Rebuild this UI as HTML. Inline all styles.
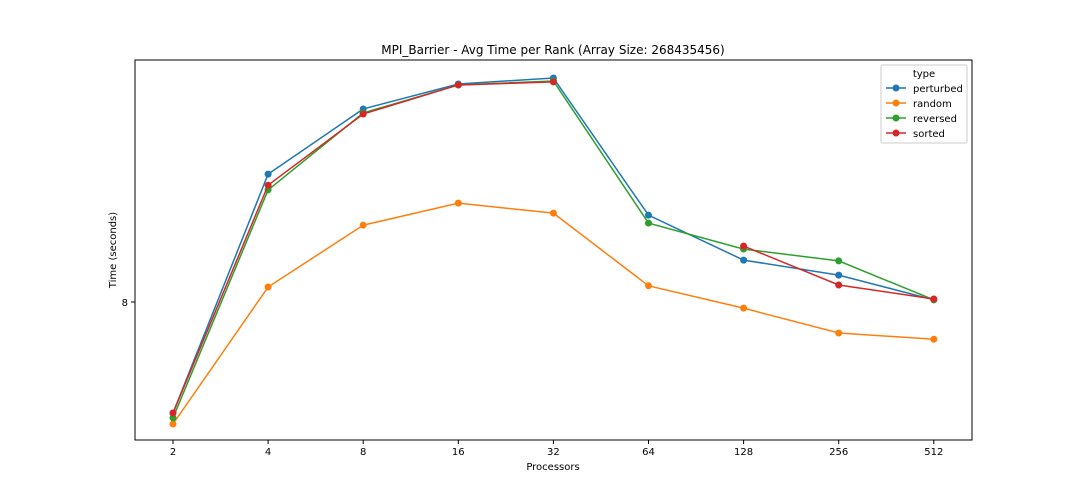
<!DOCTYPE html>
<html><head><meta charset="utf-8"><style>
html,body{margin:0;padding:0;background:#fff;}
svg{display:block;font-family:"DejaVu Sans","Liberation Sans",sans-serif;}
</style></head><body>
<svg id="chart" width="1080" height="504" viewBox="0 0 1080 504">
<text x="553" y="54" font-size="12" text-anchor="middle" fill="#000">MPI_Barrier - Avg Time per Rank (Array Size: 268435456)</text>
<rect x="135" y="60" width="837" height="380" fill="none" stroke="#000" stroke-width="1"/>
<g id="xticks"></g><g id="yticks"></g><g id="series"></g>
<text x="553" y="470" font-size="10" text-anchor="middle">Processors</text>
<text x="116" y="250" font-size="10" text-anchor="middle" transform="rotate(-90 116 250)">Time (seconds)</text>
<g id="legend">
<rect x="881" y="65" width="86" height="78" rx="2" fill="#fff" stroke="#ccc"/>
<text x="924" y="77" font-size="10" text-anchor="middle">type</text>
</g>
</svg>
<script>
const categories = ["2","4","8","16","32","64","128","256","512"];
const perturbed = [5.82, 11.54, 13.91, 14.94, 15.20, 10.26, 9.02, 8.64, 8.05];
const random = [5.64, 8.35, 9.97, 10.62, 10.32, 8.38, 7.86, 7.32, 7.19];
const reversed = [5.74, 11.03, 13.75, 14.90, 15.07, 10.03, 9.31, 9.00, 8.05];
const sorted = [5.82, 11.18, 13.71, 14.90, 15.03, null, 9.39, 8.40, 8.07];
const seriesNames = ["perturbed","random","reversed","sorted"];
const yTicks = [8];
const colors = ["#1f77b4","#ff7f0e","#2ca02c","#d62728"];
const allSeries = [perturbed, random, reversed, sorted];
const NS = "http://www.w3.org/2000/svg";
function xS(i){ return 173 + i * 95.1; }
function yS(v){ return 302 - 349 * Math.log(v / 8); }
function mk(tag, attrs, parent){ const e = document.createElementNS(NS, tag); for (const k in attrs) e.setAttribute(k, attrs[k]); parent.appendChild(e); return e; }
const xt = document.getElementById('xticks');
categories.forEach((c, i) => {
  const l = mk('line', {x1: xS(i), x2: xS(i), y1: 440, y2: 444, stroke: '#000'}, xt);
  
  
  const t = mk('text', {x: xS(i), y: 455, 'font-size': 10, 'text-anchor': 'middle'}, xt);
  t.textContent = c;
  
  
});
const yt = document.getElementById('yticks');
yTicks.forEach(v => {
  const l = mk('line', {x1: 131, x2: 135, y1: yS(v), y2: yS(v), stroke: '#000'}, yt);
  
  
  const t = mk('text', {x: 128, y: yS(v) + 4, 'font-size': 10, 'text-anchor': 'end'}, yt);
  t.textContent = String(v);
  
  
});
const sg = document.getElementById('series');
allSeries.forEach((s, si) => {
  const g = mk('g', {}, sg);
  
  
  let segs = [], cur = [];
  s.forEach((v, i) => {
    if (v === null) { if (cur.length) segs.push(cur); cur = []; }
    else cur.push(xS(i) + ',' + yS(v));
  });
  if (cur.length) segs.push(cur);
  segs.forEach(seg => {
    if (seg.length < 2) return;
    const pl = mk('polyline', {points: seg.join(' '), fill: 'none', stroke: colors[si], 'stroke-width': 1.5}, g);
    
    
  });
  s.forEach((v, i) => {
    if (v === null) return;
    const c = mk('circle', {cx: xS(i), cy: yS(v), r: 3.5, fill: colors[si]}, g);
    
    
  });
});
const lg = document.getElementById('legend');
seriesNames.forEach((n, i) => {
  const y = 88 + i * 15;
  const l = mk('line', {x1: 886, x2: 906, y1: y, y2: y, stroke: colors[i], 'stroke-width': 1.5}, lg);
  
  
  const c = mk('circle', {cx: 896, cy: y, r: 3.5, fill: colors[i]}, lg);
  
  
  const t = mk('text', {x: 913, y: y + 4, 'font-size': 10}, lg);
  t.textContent = n;
  
  
});
</script>
</body></html>
